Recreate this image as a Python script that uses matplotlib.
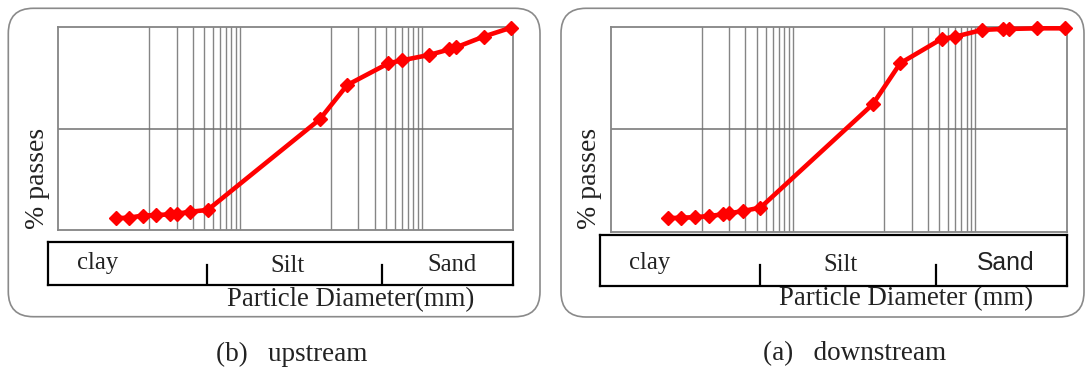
import matplotlib.pyplot as plt
from matplotlib.patches import FancyBboxPatch

# particle diameters (mm) - same sieve / hydrometer sizes for both samples
diameter = [0.00043, 0.0006, 0.00085, 0.0012, 0.0017, 0.002, 0.0028, 0.0044,
            0.075, 0.15, 0.425, 0.6, 1.18, 2.0, 2.36, 4.75, 9.5]
upstream = [5.8, 6.1, 7.1, 7.4, 7.7, 8.0, 9.0, 9.9,
            54.6, 71.5, 82.2, 83.7, 86.3, 89.1, 90.1, 95.4, 99.8]
downstream = [6.5, 6.8, 7.0, 7.6, 8.4, 8.9, 10.0, 11.7,
              62.4, 82.5, 94.4, 95.5, 98.8, 99.3, 99.3, 99.6, 99.6]

band_edges = [0.0043, 0.365]
band_names = ['clay', 'Silt', 'Sand']
band_label_x = [0.00027, 0.033, 2.13]

W, H = 1085, 371
plt.rcParams['font.family'] = ['Liberation Serif', 'DejaVu Serif']

fig = plt.figure(figsize=(W / 100, H / 100), dpi=100)

# background layer in pixel coordinates for the rounded frames and captions
bg = fig.add_axes([0, 0, 1, 1], zorder=0)
bg.set_xlim(0, W)
bg.set_ylim(H, 0)
bg.axis('off')


def px_axes(x0, y0, x1, y1, **kw):
    # pixel box (top-left origin) -> figure fraction axes
    return fig.add_axes([x0 / W, (H - y1) / H, (x1 - x0) / W, (y1 - y0) / H], **kw)


panels = [
    dict(data=upstream, frame=(8.3, 8.3, 540, 316.7), ax=(58.3, 27.3, 513, 230),
         band=(48.3, 241.7, 513.3, 285), tick_h=0.46,
         xlabel='Particle Diameter(mm)', xlab_pos=(351, 300),
         ylab_pos=(37, 178), caption='(b)   upstream', cap_pos=(292, 354),
         sand_font='Liberation Serif', label_y=[0.5, 0.45, 0.47]),
    dict(data=downstream, frame=(561, 8.3, 1084, 317), ax=(610.5, 27.5, 1066.7, 231.5),
         band=(600, 235, 1066.7, 286), tick_h=0.41,
         xlabel='Particle Diameter (mm)', xlab_pos=(906, 299),
         ylab_pos=(589, 178), caption='(a)   downstream', cap_pos=(855, 354),
         sand_font='Liberation Sans', label_y=[0.45, 0.42, 0.46]),
]

grid_c = '#858585'
for p in panels:
    fx0, fy0, fx1, fy1 = p['frame']
    bg.add_patch(FancyBboxPatch((fx0, fy0), fx1 - fx0, fy1 - fy0,
                                boxstyle='round,pad=0,rounding_size=25',
                                fill=False, ec='#8a8a8a', lw=1.2))
    bg.text(p['xlab_pos'][0], p['xlab_pos'][1], p['xlabel'], fontsize=19.3,
            ha='center', va='center', color='#222222')
    bg.text(p['ylab_pos'][0], p['ylab_pos'][1], '% passes', fontsize=20,
            ha='center', va='center', rotation=90, color='#222222')
    bg.text(p['cap_pos'][0], p['cap_pos'][1], p['caption'], fontsize=19.5,
            ha='center', va='center', color='#222222')

    ax0, ay0, ax1, ay1 = p['ax']
    ax = px_axes(ax0, ay0, ax1, ay1, zorder=2)
    ax.set_xscale('log')
    ax.set_xlim(1e-4, 10)
    ax.set_ylim(0, 100)
    ax.set_xticks([])
    ax.set_yticks([])
    ax.minorticks_off()
    for s in ax.spines.values():
        s.set_color(grid_c)
        s.set_linewidth(1.3)
    for d in [1e-3, 1e-2, 1e-1, 1]:
        ax.axvline(d, color=grid_c, lw=1.0, zorder=1)
    for dec in [1e-3, 1e-1]:
        for m in range(2, 10):
            ax.axvline(m * dec, color=grid_c, lw=1.0, zorder=1)
    ax.axhline(50, color='#707070', lw=1.1, zorder=1)
    ax.plot(diameter, p['data'], color='#ff0000', lw=3.3, marker='D',
            ms=7.3, mec='#ff0000', zorder=3, clip_on=False)

    # soil class band under the chart
    bx0, by0, bx1, by1 = p['band']
    dec_px = (ax1 - ax0) / 5.0
    bax = px_axes(bx0, by0, bx1, by1, zorder=2)
    bax.set_xscale('log')
    bax.set_xlim(10 ** (-4 - (ax0 - bx0) / dec_px), 10 ** (1 + (bx1 - ax1) / dec_px))
    bax.set_ylim(0, 1)
    bax.set_xticks([])
    bax.set_yticks([])
    bax.minorticks_off()
    for s in bax.spines.values():
        s.set_color('black')
        s.set_linewidth(1.6)
    for e in band_edges:
        bax.plot([e, e], [0, p['tick_h']], color='black', lw=1.6)
    for i, name in enumerate(band_names):
        fam = p['sand_font'] if name == 'Sand' else 'Liberation Serif'
        bax.text(band_label_x[i], p['label_y'][i], name, fontsize=17.8,
                 ha='center', va='center', family=fam, color='#222222')

fig.savefig('out.png', dpi=100)
